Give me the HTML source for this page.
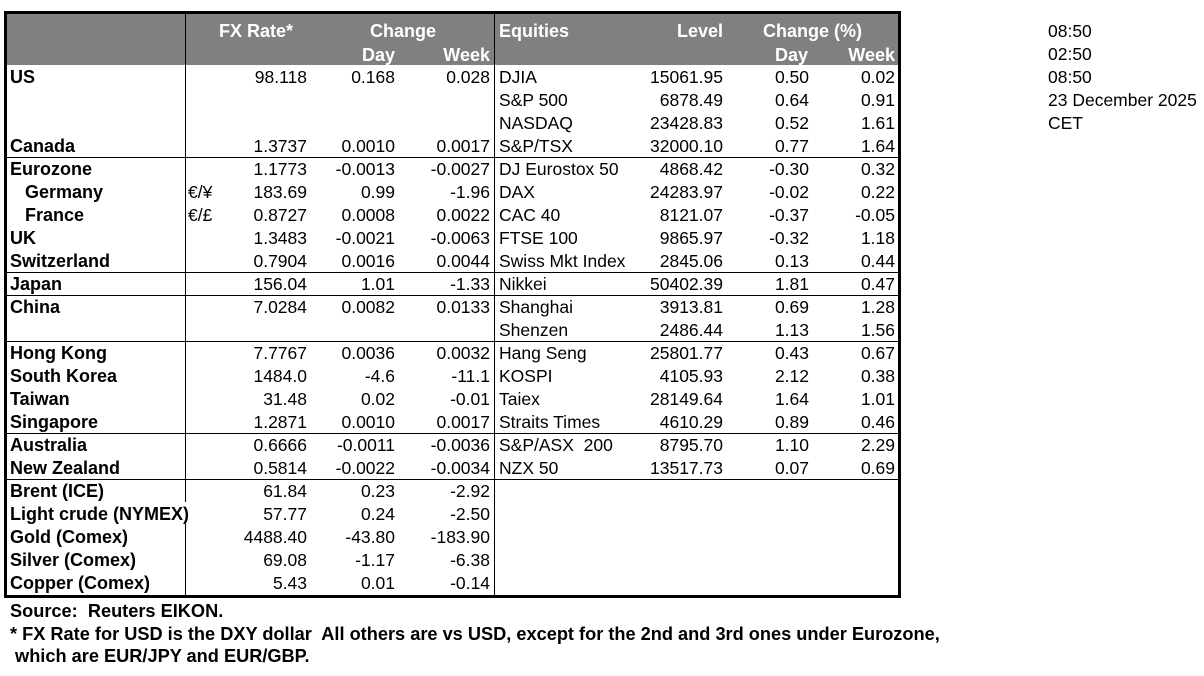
<!DOCTYPE html>
<html>
<head>
<meta charset="utf-8">
<style>
html,body{margin:0;padding:0;background:#fff;}
body{width:1204px;height:676px;position:relative;overflow:hidden;font-family:"Liberation Sans",Arial,sans-serif;}
.t{position:absolute;white-space:pre;line-height:23px;font-size:17.5px;color:#000;}
.b{font-weight:bold;font-size:18px;}
.w{color:#fff;}
.r{text-align:right;}
.ln{position:absolute;background:#000;}
.f{font-size:18.2px;}
</style>
</head>
<body>
<div class="ln" style="left:4px;top:11px;width:897px;height:587px;background:#000;"></div>
<div style="position:absolute;left:7px;top:14px;width:891px;height:581px;background:#fff;"></div>
<div style="position:absolute;left:7px;top:14px;width:891px;height:51px;background:#808080;"></div>
<div class="ln" style="left:185px;top:14px;width:1px;height:488px;"></div>
<div class="ln" style="left:185px;top:524px;width:1px;height:71px;"></div>
<div class="ln" style="left:494px;top:14px;width:1px;height:581px;"></div>
<div class="ln" style="left:7px;top:157px;width:891px;height:1px;"></div>
<div class="ln" style="left:7px;top:272px;width:891px;height:1px;"></div>
<div class="ln" style="left:7px;top:295px;width:891px;height:1px;"></div>
<div class="ln" style="left:7px;top:341px;width:891px;height:1px;"></div>
<div class="ln" style="left:7px;top:433px;width:891px;height:1px;"></div>
<div class="ln" style="left:7px;top:479px;width:891px;height:1px;"></div>

<div class="t b w" style="left:219px;top:20px;">FX Rate*</div>
<div class="t b w" style="left:370px;top:20px;">Change</div>
<div class="t b w r" style="right:809px;top:44px;">Day</div>
<div class="t b w r" style="right:714px;top:44px;">Week</div>
<div class="t b w" style="left:499px;top:20px;">Equities</div>
<div class="t b w r" style="right:481px;top:20px;">Level</div>
<div class="t b w" style="left:763px;top:20px;">Change (%)</div>
<div class="t b w r" style="right:396px;top:44px;">Day</div>
<div class="t b w r" style="right:309px;top:44px;">Week</div>

<div class="t b" style="left:10px;top:66px;">US</div>
<div class="t r" style="right:897px;top:66px;">98.118</div>
<div class="t r" style="right:809px;top:66px;">0.168</div>
<div class="t r" style="right:714px;top:66px;">0.028</div>
<div class="t" style="left:499px;top:66px;">DJIA</div>
<div class="t r" style="right:481px;top:66px;">15061.95</div>
<div class="t r" style="right:395px;top:66px;">0.50</div>
<div class="t r" style="right:309px;top:66px;">0.02</div>

<div class="t" style="left:499px;top:89px;">S&amp;P 500</div>
<div class="t r" style="right:481px;top:89px;">6878.49</div>
<div class="t r" style="right:395px;top:89px;">0.64</div>
<div class="t r" style="right:309px;top:89px;">0.91</div>

<div class="t" style="left:499px;top:112px;">NASDAQ</div>
<div class="t r" style="right:481px;top:112px;">23428.83</div>
<div class="t r" style="right:395px;top:112px;">0.52</div>
<div class="t r" style="right:309px;top:112px;">1.61</div>

<div class="t b" style="left:10px;top:135px;">Canada</div>
<div class="t r" style="right:897px;top:135px;">1.3737</div>
<div class="t r" style="right:809px;top:135px;">0.0010</div>
<div class="t r" style="right:714px;top:135px;">0.0017</div>
<div class="t" style="left:499px;top:135px;">S&amp;P/TSX</div>
<div class="t r" style="right:481px;top:135px;">32000.10</div>
<div class="t r" style="right:395px;top:135px;">0.77</div>
<div class="t r" style="right:309px;top:135px;">1.64</div>

<div class="t b" style="left:10px;top:158px;">Eurozone</div>
<div class="t r" style="right:897px;top:158px;">1.1773</div>
<div class="t r" style="right:809px;top:158px;">-0.0013</div>
<div class="t r" style="right:714px;top:158px;">-0.0027</div>
<div class="t" style="left:499px;top:158px;">DJ Eurostox 50</div>
<div class="t r" style="right:481px;top:158px;">4868.42</div>
<div class="t r" style="right:395px;top:158px;">-0.30</div>
<div class="t r" style="right:309px;top:158px;">0.32</div>

<div class="t b" style="left:25px;top:181px;">Germany</div>
<div class="t" style="left:188px;top:181px;">€/¥</div>
<div class="t r" style="right:897px;top:181px;">183.69</div>
<div class="t r" style="right:809px;top:181px;">0.99</div>
<div class="t r" style="right:714px;top:181px;">-1.96</div>
<div class="t" style="left:499px;top:181px;">DAX</div>
<div class="t r" style="right:481px;top:181px;">24283.97</div>
<div class="t r" style="right:395px;top:181px;">-0.02</div>
<div class="t r" style="right:309px;top:181px;">0.22</div>

<div class="t b" style="left:25px;top:204px;">France</div>
<div class="t" style="left:188px;top:204px;">€/£</div>
<div class="t r" style="right:897px;top:204px;">0.8727</div>
<div class="t r" style="right:809px;top:204px;">0.0008</div>
<div class="t r" style="right:714px;top:204px;">0.0022</div>
<div class="t" style="left:499px;top:204px;">CAC 40</div>
<div class="t r" style="right:481px;top:204px;">8121.07</div>
<div class="t r" style="right:395px;top:204px;">-0.37</div>
<div class="t r" style="right:309px;top:204px;">-0.05</div>

<div class="t b" style="left:10px;top:227px;">UK</div>
<div class="t r" style="right:897px;top:227px;">1.3483</div>
<div class="t r" style="right:809px;top:227px;">-0.0021</div>
<div class="t r" style="right:714px;top:227px;">-0.0063</div>
<div class="t" style="left:499px;top:227px;">FTSE 100</div>
<div class="t r" style="right:481px;top:227px;">9865.97</div>
<div class="t r" style="right:395px;top:227px;">-0.32</div>
<div class="t r" style="right:309px;top:227px;">1.18</div>

<div class="t b" style="left:10px;top:250px;">Switzerland</div>
<div class="t r" style="right:897px;top:250px;">0.7904</div>
<div class="t r" style="right:809px;top:250px;">0.0016</div>
<div class="t r" style="right:714px;top:250px;">0.0044</div>
<div class="t" style="left:499px;top:250px;">Swiss Mkt Index</div>
<div class="t r" style="right:481px;top:250px;">2845.06</div>
<div class="t r" style="right:395px;top:250px;">0.13</div>
<div class="t r" style="right:309px;top:250px;">0.44</div>

<div class="t b" style="left:10px;top:273px;">Japan</div>
<div class="t r" style="right:897px;top:273px;">156.04</div>
<div class="t r" style="right:809px;top:273px;">1.01</div>
<div class="t r" style="right:714px;top:273px;">-1.33</div>
<div class="t" style="left:499px;top:273px;">Nikkei</div>
<div class="t r" style="right:481px;top:273px;">50402.39</div>
<div class="t r" style="right:395px;top:273px;">1.81</div>
<div class="t r" style="right:309px;top:273px;">0.47</div>

<div class="t b" style="left:10px;top:296px;">China</div>
<div class="t r" style="right:897px;top:296px;">7.0284</div>
<div class="t r" style="right:809px;top:296px;">0.0082</div>
<div class="t r" style="right:714px;top:296px;">0.0133</div>
<div class="t" style="left:499px;top:296px;">Shanghai</div>
<div class="t r" style="right:481px;top:296px;">3913.81</div>
<div class="t r" style="right:395px;top:296px;">0.69</div>
<div class="t r" style="right:309px;top:296px;">1.28</div>

<div class="t" style="left:499px;top:319px;">Shenzen</div>
<div class="t r" style="right:481px;top:319px;">2486.44</div>
<div class="t r" style="right:395px;top:319px;">1.13</div>
<div class="t r" style="right:309px;top:319px;">1.56</div>

<div class="t b" style="left:10px;top:342px;">Hong Kong</div>
<div class="t r" style="right:897px;top:342px;">7.7767</div>
<div class="t r" style="right:809px;top:342px;">0.0036</div>
<div class="t r" style="right:714px;top:342px;">0.0032</div>
<div class="t" style="left:499px;top:342px;">Hang Seng</div>
<div class="t r" style="right:481px;top:342px;">25801.77</div>
<div class="t r" style="right:395px;top:342px;">0.43</div>
<div class="t r" style="right:309px;top:342px;">0.67</div>

<div class="t b" style="left:10px;top:365px;">South Korea</div>
<div class="t r" style="right:897px;top:365px;">1484.0</div>
<div class="t r" style="right:809px;top:365px;">-4.6</div>
<div class="t r" style="right:714px;top:365px;">-11.1</div>
<div class="t" style="left:499px;top:365px;">KOSPI</div>
<div class="t r" style="right:481px;top:365px;">4105.93</div>
<div class="t r" style="right:395px;top:365px;">2.12</div>
<div class="t r" style="right:309px;top:365px;">0.38</div>

<div class="t b" style="left:10px;top:388px;">Taiwan</div>
<div class="t r" style="right:897px;top:388px;">31.48</div>
<div class="t r" style="right:809px;top:388px;">0.02</div>
<div class="t r" style="right:714px;top:388px;">-0.01</div>
<div class="t" style="left:499px;top:388px;">Taiex</div>
<div class="t r" style="right:481px;top:388px;">28149.64</div>
<div class="t r" style="right:395px;top:388px;">1.64</div>
<div class="t r" style="right:309px;top:388px;">1.01</div>

<div class="t b" style="left:10px;top:411px;">Singapore</div>
<div class="t r" style="right:897px;top:411px;">1.2871</div>
<div class="t r" style="right:809px;top:411px;">0.0010</div>
<div class="t r" style="right:714px;top:411px;">0.0017</div>
<div class="t" style="left:499px;top:411px;">Straits Times</div>
<div class="t r" style="right:481px;top:411px;">4610.29</div>
<div class="t r" style="right:395px;top:411px;">0.89</div>
<div class="t r" style="right:309px;top:411px;">0.46</div>

<div class="t b" style="left:10px;top:434px;">Australia</div>
<div class="t r" style="right:897px;top:434px;">0.6666</div>
<div class="t r" style="right:809px;top:434px;">-0.0011</div>
<div class="t r" style="right:714px;top:434px;">-0.0036</div>
<div class="t" style="left:499px;top:434px;">S&amp;P/ASX  200</div>
<div class="t r" style="right:481px;top:434px;">8795.70</div>
<div class="t r" style="right:395px;top:434px;">1.10</div>
<div class="t r" style="right:309px;top:434px;">2.29</div>

<div class="t b" style="left:10px;top:457px;">New Zealand</div>
<div class="t r" style="right:897px;top:457px;">0.5814</div>
<div class="t r" style="right:809px;top:457px;">-0.0022</div>
<div class="t r" style="right:714px;top:457px;">-0.0034</div>
<div class="t" style="left:499px;top:457px;">NZX 50</div>
<div class="t r" style="right:481px;top:457px;">13517.73</div>
<div class="t r" style="right:395px;top:457px;">0.07</div>
<div class="t r" style="right:309px;top:457px;">0.69</div>

<div class="t b" style="left:10px;top:480px;">Brent (ICE)</div>
<div class="t r" style="right:897px;top:480px;">61.84</div>
<div class="t r" style="right:809px;top:480px;">0.23</div>
<div class="t r" style="right:714px;top:480px;">-2.92</div>

<div class="t b" style="left:10px;top:503px;">Light crude (NYMEX)</div>
<div class="t r" style="right:897px;top:503px;">57.77</div>
<div class="t r" style="right:809px;top:503px;">0.24</div>
<div class="t r" style="right:714px;top:503px;">-2.50</div>

<div class="t b" style="left:10px;top:526px;">Gold (Comex)</div>
<div class="t r" style="right:897px;top:526px;">4488.40</div>
<div class="t r" style="right:809px;top:526px;">-43.80</div>
<div class="t r" style="right:714px;top:526px;">-183.90</div>

<div class="t b" style="left:10px;top:549px;">Silver (Comex)</div>
<div class="t r" style="right:897px;top:549px;">69.08</div>
<div class="t r" style="right:809px;top:549px;">-1.17</div>
<div class="t r" style="right:714px;top:549px;">-6.38</div>

<div class="t b" style="left:10px;top:572px;">Copper (Comex)</div>
<div class="t r" style="right:897px;top:572px;">5.43</div>
<div class="t r" style="right:809px;top:572px;">0.01</div>
<div class="t r" style="right:714px;top:572px;">-0.14</div>

<div class="t" style="left:1048px;top:20px;">08:50</div>
<div class="t" style="left:1048px;top:43px;">02:50</div>
<div class="t" style="left:1048px;top:66px;">08:50</div>
<div class="t" style="left:1048px;top:89px;">23 December 2025</div>
<div class="t" style="left:1048px;top:112px;">CET</div>

<div class="t b f" style="left:10px;top:600px;">Source:  Reuters EIKON.</div>
<div class="t b f" style="left:10px;top:623px;">* FX Rate for USD is the DXY dollar  All others are vs USD, except for the 2nd and 3rd ones under Eurozone,</div>
<div class="t b f" style="left:10px;top:645px;"> which are EUR/JPY and EUR/GBP.</div>
</body>
</html>
